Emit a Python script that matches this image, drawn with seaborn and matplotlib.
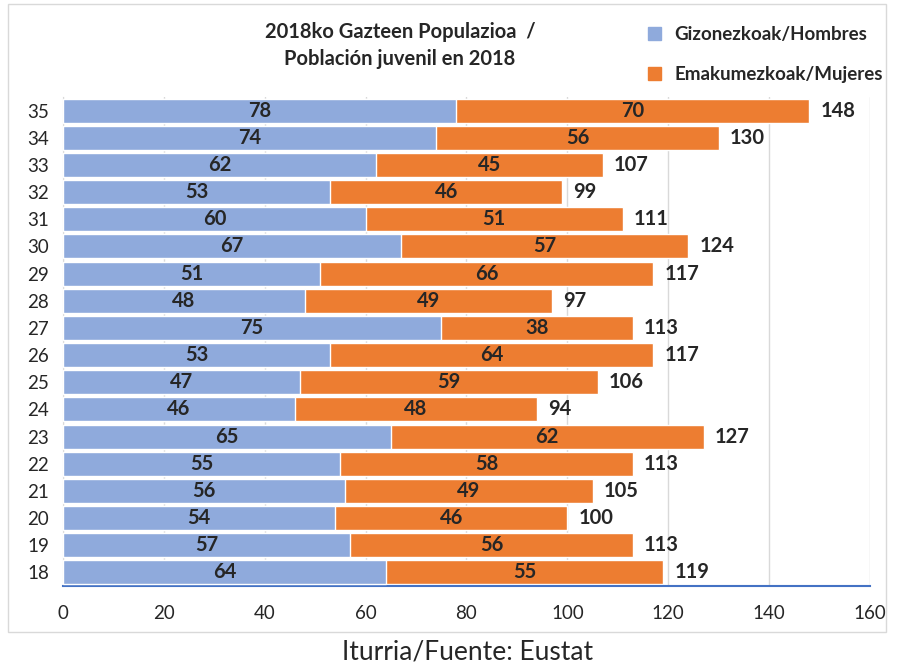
import numpy as np
import pandas as pd
import matplotlib
matplotlib.use('Agg')
import matplotlib.pyplot as plt
import matplotlib.patches as mpatches
import seaborn as sns

ages = [35, 34, 33, 32, 31, 30, 29, 28, 27, 26, 25, 24, 23, 22, 21, 20, 19, 18]
hombres = [78, 74, 62, 53, 60, 67, 51, 48, 75, 53, 47, 46, 65, 55, 56, 54, 57, 64]
mujeres = [70, 56, 45, 46, 51, 57, 66, 49, 38, 64, 59, 48, 62, 58, 49, 46, 56, 55]
x_ticks = [0, 20, 40, 60, 80, 100, 120, 140, 160]

blue = '#8FAADC'
orange = '#ED7D31'

sns.set_style('white')
plt.rcParams['font.family'] = ['Lato', 'DejaVu Sans']

df = pd.DataFrame({'edad': [str(a) for a in ages], 'hombres': hombres, 'mujeres': mujeres})
df['total'] = df['hombres'] + df['mujeres']

fig = plt.figure(figsize=(8.99, 6.65), dpi=100)
ax = fig.add_axes([0.0701, 0.1188, 0.8976, 0.7353])

# Stacked bars: total in orange underneath, men in blue on top.
sns.barplot(x='total', y='edad', data=df, order=df['edad'].tolist(), color=orange,
            orient='h', width=0.88, saturation=1, ax=ax, zorder=2)
sns.barplot(x='hombres', y='edad', data=df, order=df['edad'].tolist(), color=blue,
            orient='h', width=0.88, saturation=1, ax=ax, zorder=3)

for i, row in df.iterrows():
    ax.text(row['hombres'] / 2, i, str(row['hombres']), ha='center', va='center',
            fontsize=14.5, fontweight='bold', zorder=4)
    ax.text(row['hombres'] + row['mujeres'] / 2, i, str(row['mujeres']), ha='center',
            va='center', fontsize=14.5, fontweight='bold', zorder=4)
    ax.text(row['total'] + 2.2, i, str(row['total']), ha='left', va='center',
            fontsize=14.5, fontweight='bold', zorder=4)

ax.set_xlim(0, 160)
ax.set_ylim(17.5, -0.5)
ax.set_xticks(x_ticks)
ax.set_xticklabels([str(t) for t in x_ticks], fontsize=13.5)
ax.tick_params(axis='y', labelsize=13.5, length=0, pad=10)
ax.tick_params(axis='x', length=0, pad=14)
ax.set_xlabel('')
ax.set_ylabel('')
ax.grid(axis='x', color='#D9D9D9', linewidth=1, zorder=0)
ax.set_axisbelow(True)
for s in ['top', 'right']:
    ax.spines[s].set_visible(False)
ax.spines['left'].set_color('#D9D9D9')
ax.spines['bottom'].set_color('#4472C4')
ax.spines['bottom'].set_linewidth(1.5)

# Chart border
fig.patches.append(mpatches.Rectangle((0.009, 0.049), 0.976, 0.945, transform=fig.transFigure,
                                      fill=False, edgecolor='#D9D9D9', linewidth=1))

fig.text(0.445, 0.952, '2018ko Gazteen Populazioa  /', ha='center', va='center',
         fontsize=14.5, fontweight='bold')
fig.text(0.445, 0.912, 'Población juvenil en 2018', ha='center', va='center',
         fontsize=14.5, fontweight='bold')

handles = [mpatches.Patch(color=blue, label='Gizonezkoak/Hombres'),
           mpatches.Patch(color=orange, label='Emakumezkoak/Mujeres')]
fig.legend(handles=handles, loc='upper left', bbox_to_anchor=(0.702, 0.986), frameon=False,
           handlelength=0.7, handleheight=0.7, handletextpad=0.7,
           labelspacing=1.2, prop={'weight': 'bold', 'size': 13.5})

fig.text(0.52, 0.02, 'Iturria/Fuente: Eustat', ha='center', va='center', fontsize=19)

fig.savefig('out.png', dpi=100)
